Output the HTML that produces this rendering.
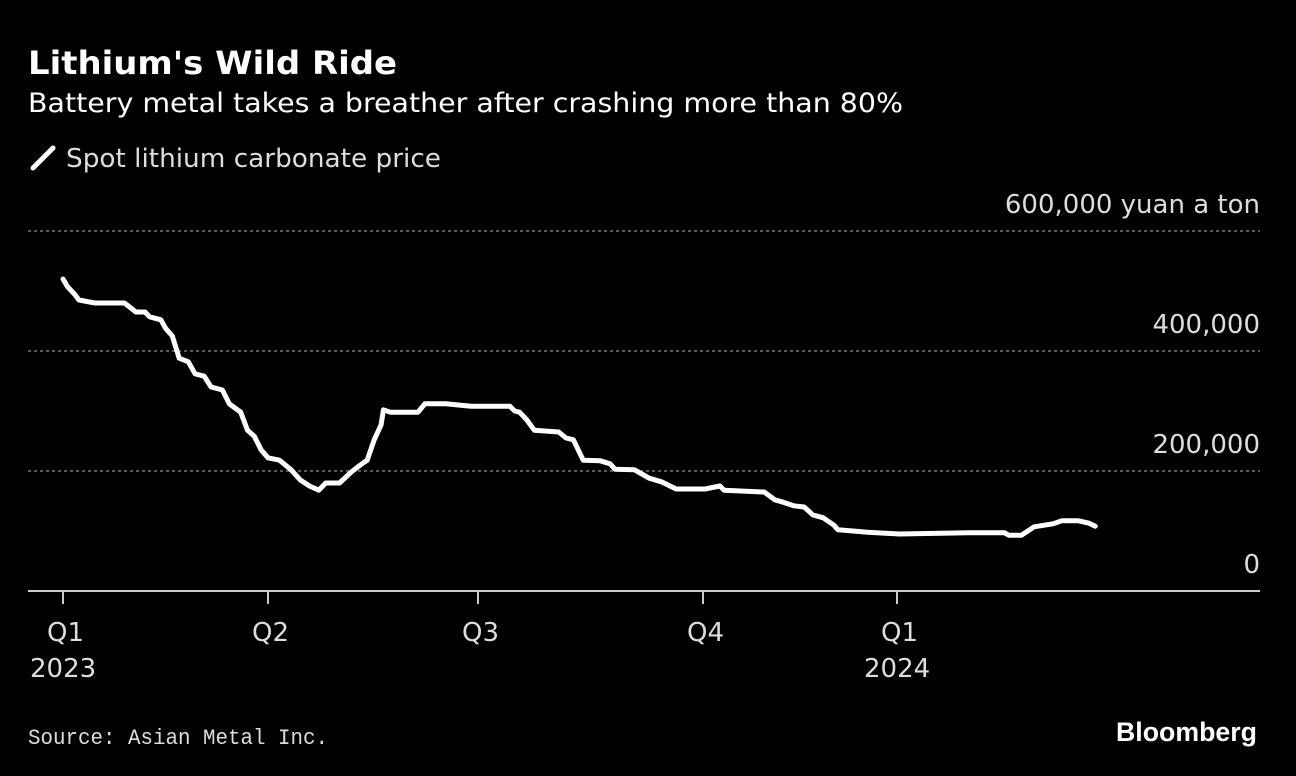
<!DOCTYPE html>
<html><head><meta charset="utf-8"><style>
html,body{margin:0;padding:0;background:#000;}
svg{display:block;font-family:"DejaVu Sans","Liberation Sans",sans-serif;}
</style></head><body>
<svg id="chart" width="1296" height="776" viewBox="0 0 1296 776">
<rect width="1296" height="776" fill="#000"/>
<text x="28" y="74" font-size="32" font-weight="bold" fill="#fff" textLength="369" lengthAdjust="spacingAndGlyphs">Lithium's Wild Ride</text>
<text x="28" y="112" font-size="27" fill="#fff" textLength="875" lengthAdjust="spacingAndGlyphs">Battery metal takes a breather after crashing more than 80%</text>
<line x1="33" y1="168" x2="53" y2="148" stroke="#fff" stroke-width="5" stroke-linecap="round"/>
<text x="66" y="167" font-size="26" fill="#ddd" textLength="375" lengthAdjust="spacingAndGlyphs">Spot lithium carbonate price</text>
<g id="grid"></g>
<g id="yticks"></g>
<g id="xticks"></g>
<path id="series" fill="none" stroke="#fff" stroke-width="5" stroke-linejoin="round" stroke-linecap="round"/>
<text x="28" y="744" font-size="22" fill="#ddd" font-family="Liberation Mono, monospace" textLength="300" lengthAdjust="spacingAndGlyphs">Source: Asian Metal Inc.</text>
<text x="1257" y="741" font-size="27" font-weight="bold" fill="#fff" text-anchor="end" font-family="Liberation Sans, sans-serif" textLength="141" lengthAdjust="spacingAndGlyphs">Bloomberg</text>
</svg>
<script>
const days = [0,2,5,7,14,27,32,36,38,43,45,48,51,55,58,62,65,70,73,78,81,84,87,90,95,100,104,108,112,115,121,126,130,133,136,139,140,143,155,158,167,178,194,196,198,201,204,214,217,220,224,231,235,237,245,251,256,262,274,281,283,302,307,311,316,321,325,330,335,337,351,366,399,416,418,424,430,439,443,451,456,459];
const prices = [520,507,495,485,480,480,465,465,457,452,438,425,388,382,362,358,340,335,312,298,268,258,235,222,218,202,185,175,168,180,180,198,210,218,252,277,302,298,298,312,312,308,308,300,298,285,268,265,255,252,218,217,212,203,202,188,182,170,170,175,168,165,152,148,142,140,127,122,110,102,98,95,97,97,93,93,107,112,117,117,113,108];
const yTicks = [0,200,400,600];
const yTickLabels = ["0","200,000","400,000","600,000 yuan a ton"];
const xTickDays = [0,90,181,273,365];
const xTickLabels = ["Q1","Q2","Q3","Q4","Q1"];
const xTickYears = ["2023","","","","2024"];
const anchorDays = [0,90,181,273,365,500];
const anchorPx = [63,268,478,703,897,897+135*2.11];
function xScale(d){
  for(let i=0;i<anchorDays.length-1;i++){
    if(d<=anchorDays[i+1]||i===anchorDays.length-2){
      const t=(d-anchorDays[i])/(anchorDays[i+1]-anchorDays[i]);
      return anchorPx[i]+t*(anchorPx[i+1]-anchorPx[i]);
    }
  }
}
function yScale(v){return 591 - v*0.6;}
const NS="http://www.w3.org/2000/svg";
const grid=document.getElementById('grid'), yt=document.getElementById('yticks'), xt=document.getElementById('xticks');
yTicks.forEach((v,i)=>{
  const y=yScale(v);
  const l=document.createElementNS(NS,'line');
  l.setAttribute('x1',28);l.setAttribute('x2',1260);l.setAttribute('y1',y);l.setAttribute('y2',y);
  if(v===0){l.setAttribute('stroke','#ccc');l.setAttribute('stroke-width','2');}
  else{l.setAttribute('stroke','#777');l.setAttribute('stroke-width','1.5');l.setAttribute('stroke-dasharray','3 3');}
  
  
  grid.appendChild(l);
  const t=document.createElementNS(NS,'text');
  t.setAttribute('x',1260);t.setAttribute('y',y-18);t.setAttribute('text-anchor','end');
  t.setAttribute('font-size','26');t.setAttribute('fill','#ddd');
  t.textContent=yTickLabels[i];
  
  
  yt.appendChild(t);
});
xTickDays.forEach((d,i)=>{
  const x=xScale(d);
  const l=document.createElementNS(NS,'line');
  l.setAttribute('x1',x);l.setAttribute('x2',x);l.setAttribute('y1',591);l.setAttribute('y2',604);
  l.setAttribute('stroke','#ccc');l.setAttribute('stroke-width','2');
  
  
  xt.appendChild(l);
  const t=document.createElementNS(NS,'text');
  t.setAttribute('x',x-16);t.setAttribute('y',641);t.setAttribute('font-size','26');t.setAttribute('fill','#ddd');
  t.textContent=xTickLabels[i];
  
  
  xt.appendChild(t);
  if(xTickYears[i]){
    const t2=document.createElementNS(NS,'text');
    t2.setAttribute('x',x-33);t2.setAttribute('y',677);t2.setAttribute('font-size','26');t2.setAttribute('fill','#ddd');
    t2.textContent=xTickYears[i];
    
    
    xt.appendChild(t2);
  }
});
let d='';
days.forEach((dd,i)=>{d+=(i?'L':'M')+xScale(dd).toFixed(1)+' '+yScale(prices[i]).toFixed(1);});
document.getElementById('series').setAttribute('d',d);
</script>
</body></html>
